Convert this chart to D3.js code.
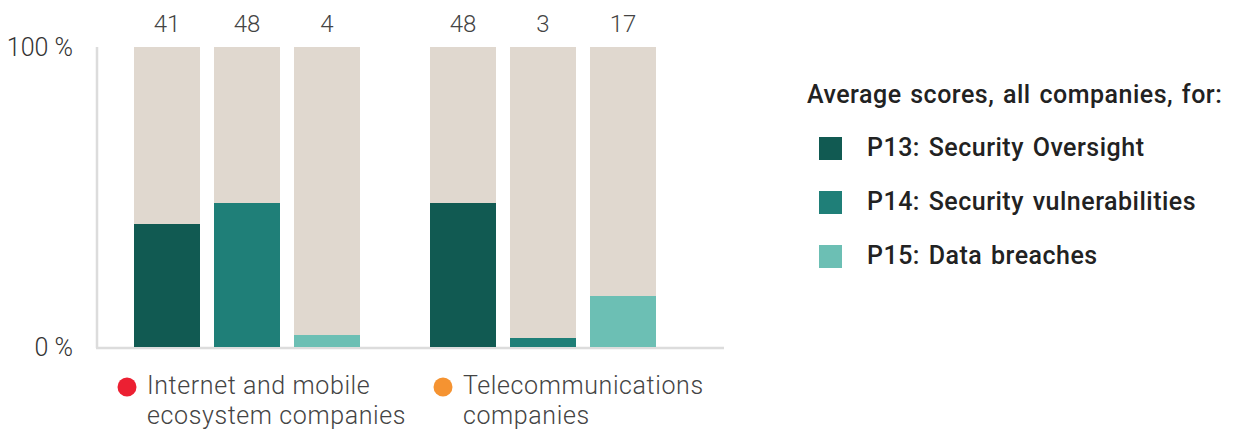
<!DOCTYPE html>
<html>
<head>
<meta charset="utf-8">
<script src="https://cdn.jsdelivr.net/npm/d3@7"></script>
<style>
  html, body { margin: 0; padding: 0; background: #fff; }
  svg { display: block; font-family: Roboto, "Noto Sans", sans-serif; }
</style>
</head>
<body>
<svg id="chart" width="1237" height="431"></svg>
<script>
// Company groups and the three security indicators scored for each
const groups = ["Internet and mobile ecosystem companies", "Telecommunications companies"];
const groupLines = [["Internet and mobile", "ecosystem companies"], ["Telecommunications", "companies"]];
const groupDotColors = ["#ec2032", "#f59331"];
const indicators = ["P13: Security Oversight", "P14: Security vulnerabilities", "P15: Data breaches"];
const indicatorColors = ["#115a52", "#1f7f78", "#6cbfb4"];
// Average scores (%) per group, in indicator order
const internetScores = [41, 48, 4];
const telecomScores = [48, 3, 17];
const yTicks = [0, 100];

const scores = [internetScores, telecomScores];
const svg = d3.select("#chart");

const y = d3.scaleLinear().domain([0, 100]).range([347, 47]);
const xGroup = d3.scaleBand().domain(groups).range([134, 656]).paddingInner(70 / 296).paddingOuter(0);
const xBar = d3.scaleBand().domain(indicators).range([0, xGroup.bandwidth()]).paddingInner(0.175).paddingOuter(0);
// horizontal offset of each group caption's dot from the group's left edge
const captionShift = [-7, 13];

// Axis frame
svg.append("line").attr("x1", 97).attr("x2", 97).attr("y1", y(100)).attr("y2", y(0) + 1)
  .attr("stroke", "#dcdcdc").attr("stroke-width", 2.5);
svg.append("line").attr("x1", 96).attr("x2", 724).attr("y1", y(0) + 1).attr("y2", y(0) + 1)
  .attr("stroke", "#dcdcdc").attr("stroke-width", 2.5);

// Y tick labels
svg.selectAll(".ytick").data(yTicks).join("text")
  .attr("class", "ytick")
  .attr("x", 73).attr("y", d => y(d)).attr("dy", "0.36em")
  .attr("text-anchor", "end")
  .attr("font-size", 25).attr("font-weight", 300).attr("fill", "#333")
  .text(d => d + " %");

// Bars: full-height background plus score portion
const g = svg.selectAll(".group").data(groups).join("g")
  .attr("class", "group")
  .attr("transform", d => `translate(${xGroup(d)},0)`);

g.each(function (grp, gi) {
  const sel = d3.select(this);
  const rows = indicators.map((ind, i) => ({ ind, i, v: scores[gi][i] }));
  sel.selectAll(".bg").data(rows).join("rect")
    .attr("class", "bg")
    .attr("x", d => xBar(d.ind)).attr("width", xBar.bandwidth())
    .attr("y", y(100)).attr("height", y(0) - y(100))
    .attr("fill", "#e0d8cf");
  sel.selectAll(".val").data(rows).join("rect")
    .attr("class", "val")
    .attr("x", d => xBar(d.ind)).attr("width", xBar.bandwidth())
    .attr("y", d => y(d.v)).attr("height", d => y(0) - y(d.v))
    .attr("fill", d => indicatorColors[d.i]);
  sel.selectAll(".lbl").data(rows).join("text")
    .attr("class", "lbl")
    .attr("x", d => xBar(d.ind) + xBar.bandwidth() / 2)
    .attr("y", 32)
    .attr("text-anchor", "middle")
    .attr("font-size", 24).attr("font-weight", 300).attr("fill", "#444")
    .text(d => d.v);

  // Group caption with colored dot
  const lx = xBar(indicators[0]) + captionShift[gi];
  sel.append("circle").attr("cx", lx).attr("cy", 387).attr("r", 9.5).attr("fill", groupDotColors[gi]);
  const t = sel.append("text").attr("x", lx + 20).attr("y", 394)
    .attr("font-size", 25).attr("font-weight", 300).attr("fill", "#444")
    .attr("letter-spacing", 0.6);
  groupLines[gi].forEach((line, li) => {
    t.append("tspan").attr("x", lx + 20).attr("dy", li === 0 ? 0 : 30).text(line);
  });
});

// Indicator legend
const legend = svg.append("g")
  .attr("font-size", 25).attr("font-weight", 500).attr("fill", "#222")
  .attr("letter-spacing", 0.5).attr("word-spacing", 2);
legend.append("text").attr("x", 807).attr("y", 103)
  .text("Average scores, all companies, for:");
const items = legend.selectAll(".item").data(indicators).join("g")
  .attr("class", "item")
  .attr("transform", (d, i) => `translate(819,${137 + i * 54})`);
items.append("rect").attr("width", 23).attr("height", 23).attr("fill", (d, i) => indicatorColors[i]);
items.append("text").attr("x", 48).attr("y", 19)
  .text(d => d);
</script>
</body>
</html>
